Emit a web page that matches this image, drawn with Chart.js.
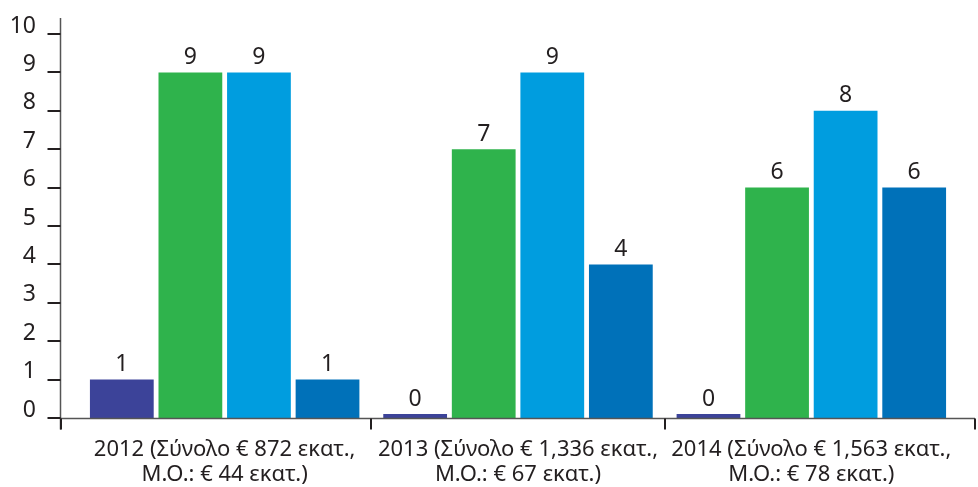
<!DOCTYPE html>
<html>
<head>
<meta charset="utf-8">
<script src="https://cdn.jsdelivr.net/npm/chart.js@4/dist/chart.umd.min.js"></script>
<style>
  html, body { margin: 0; padding: 0; background: #fff; }
  #wrap { width: 978px; height: 487px; position: relative; }
</style>
</head>
<body>
<div id="wrap"><canvas id="chart"></canvas></div>
<script>
// ---- data ----
const categories = [
    ['2012 (Σύνολο € 872 εκατ.,', 'Μ.Ο.: € 44 εκατ.)'],
    ['2013 (Σύνολο € 1,336 εκατ.,', 'Μ.Ο.: € 67 εκατ.)'],
    ['2014 (Σύνολο € 1,563 εκατ.,', 'Μ.Ο.: € 78 εκατ.)'],
];
const series1 = [1, 0, 0];
const series2 = [9, 7, 6];
const series3 = [9, 9, 8];
const series4 = [1, 4, 6];
const yTicks = [0, 1, 2, 3, 4, 5, 6, 7, 8, 9, 10];

const colors = ['#3c4399', '#2fb34c', '#009ddf', '#0071b9'];
const ink = '#231f20';
const FONT = '"Noto Sans", "DejaVu Sans", sans-serif';

// ---- axes drawn by hand (axis extends past the plot area) ----
const axesPlugin = {
    id: 'axes',
    afterDraw(chart) {
        const { ctx, chartArea, scales: { x, y } } = chart;
        const y0 = Math.round(y.getPixelForValue(0)) + 0.5;
        const axX = Math.round(chartArea.left - 18) + 0.5;
        const axR = chartArea.right + 17;
        ctx.save();

        // main lines
        ctx.strokeStyle = '#555';
        ctx.lineWidth = 1.5;
        ctx.beginPath();
        ctx.moveTo(axX, y.getPixelForValue(10) - 16);
        ctx.lineTo(axX, y0 + 11);
        ctx.moveTo(axX, y0);
        ctx.lineTo(axR, y0);
        ctx.stroke();

        // tick marks
        ctx.strokeStyle = ink;
        ctx.lineWidth = 2;
        ctx.beginPath();
        yTicks.forEach(v => {
            const py = Math.round(y.getPixelForValue(v));
            ctx.moveTo(axX - 13, py);
            ctx.lineTo(axX, py);
        });
        const bounds = [axX];
        for (let i = 1; i < categories.length; i++) {
            bounds.push((x.getPixelForValue(i - 1) + x.getPixelForValue(i)) / 2);
        }
        bounds.push(axR);
        bounds.forEach(px => {
            ctx.moveTo(Math.round(px), y0);
            ctx.lineTo(Math.round(px), y0 + 11);
        });
        ctx.stroke();
        ctx.restore();
    }
};

// ---- value labels above bars ----
const valueLabels = {
    id: 'valueLabels',
    afterDatasetsDraw(chart) {
        const { ctx } = chart;
        ctx.save();
        ctx.fillStyle = ink;
        ctx.font = '23px ' + FONT;
        ctx.textAlign = 'center';
        ctx.textBaseline = 'alphabetic';
        chart.data.datasets.forEach((ds, i) => {
            chart.getDatasetMeta(i).data.forEach((bar, j) => {
                ctx.fillText(String(ds.data[j]), bar.x, bar.y - 8.5);
            });
        });
        ctx.restore();
    }
};

new Chart(document.getElementById('chart'), {
    type: 'bar',
    data: {
        labels: categories,
        datasets: [series1, series2, series3, series4].map((d, i) => ({
            label: 'Σειρά ' + (i + 1),
            data: d,
            backgroundColor: colors[i],
            borderWidth: 0,
            minBarLength: 4,
            categoryPercentage: 0.935,
            barPercentage: 0.93,
        })),
    },
    options: {
        responsive: true,
        maintainAspectRatio: false,
        animation: false,
        devicePixelRatio: 1,
        layout: { padding: { left: 0, top: 34, right: 20, bottom: 0 } },
        plugins: { legend: { display: false }, tooltip: { enabled: false } },
        scales: {
            x: {
                grid: { display: false, drawTicks: false },
                border: { display: false },
                ticks: {
                    color: ink,
                    font: { family: FONT, size: 22, lineHeight: 1.14 },
                    padding: 19,
                    maxRotation: 0,
                    autoSkip: false,
                },
                afterFit: s => { s.height = 69; s.paddingLeft = 0; s.paddingRight = 0; },
            },
            y: {
                min: 0,
                max: 10,
                grid: { display: false, drawTicks: false },
                border: { display: false },
                ticks: {
                    stepSize: 1,
                    color: ink,
                    font: { family: FONT, size: 23 },
                    padding: 42,
                    labelOffset: -8,
                },
                afterFit: s => { s.width = 78; s.paddingTop = 0; s.paddingBottom = 0; },
            },
        },
    },
    plugins: [axesPlugin, valueLabels],
});
</script>
</body>
</html>
